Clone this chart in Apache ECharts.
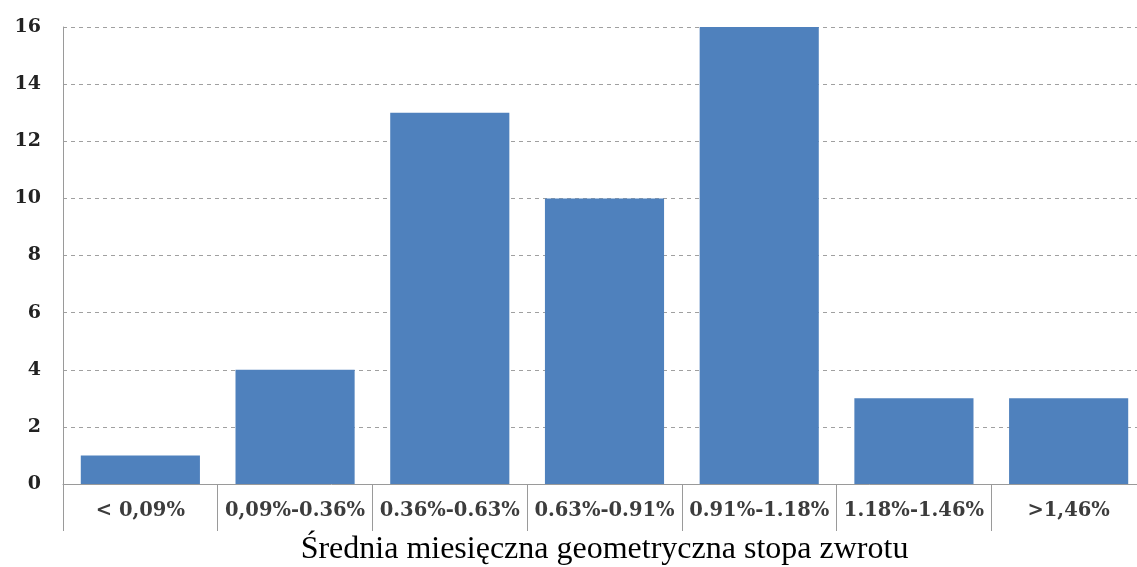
<!DOCTYPE html>
<html><head><meta charset="utf-8">
<script src="https://cdn.jsdelivr.net/npm/echarts@6/dist/echarts.min.js"></script>
<style>html,body{margin:0;padding:0;background:#fff}#c{width:1137px;height:567px}</style>
</head><body><div id="c"></div>
<script>
const categories = ['< 0,09%', '0,09%-0.36%', '0.36%-0.63%', '0.63%-0.91%', '0.91%-1.18%', '1.18%-1.46%', '>1,46%'];
const counts = [1, 4, 13, 10, 16, 3, 3];
const axisTitle = 'Średnia miesięczna geometryczna stopa zwrotu';

const chart = echarts.init(document.getElementById('c'), null, {renderer: 'canvas'});
chart.setOption({
  backgroundColor: '#fff',
  animation: false,
  grid: {left: 63, right: -9, top: 27, bottom: 83, containLabel: false, outerBoundsMode: 'none'},
  xAxis: {
    type: 'category',
    data: categories,
    axisLine: {lineStyle: {color: '#9a9a9a', width: 1}},
    axisTick: {show: true, length: 47, lineStyle: {color: '#9a9a9a'}},
    axisLabel: {interval: 0, hideOverlap: false, fontFamily: 'DejaVu Serif', fontWeight: 'bold', fontSize: 19.5, color: '#3c3c3c', margin: 17},
    name: axisTitle,
    nameLocation: 'middle',
    nameGap: 66,
    nameTextStyle: {fontFamily: 'Liberation Serif', fontSize: 32, color: '#000', verticalAlign: 'middle'}
  },
  yAxis: {
    type: 'value',
    min: 0, max: 16, interval: 2,
    axisLine: {show: true, lineStyle: {color: '#9a9a9a'}},
    axisTick: {show: false},
    axisLabel: {fontFamily: 'DejaVu Serif', fontWeight: 'bold', fontSize: 19, color: '#222', margin: 22},
    splitLine: {lineStyle: {color: '#a0a0a0', type: [4, 4], width: 1}}
  },
  series: [{
    type: 'bar',
    data: counts,
    barCategoryGap: '23%',
    itemStyle: {color: '#4f81bd'}
  }]
});
</script></body></html>
